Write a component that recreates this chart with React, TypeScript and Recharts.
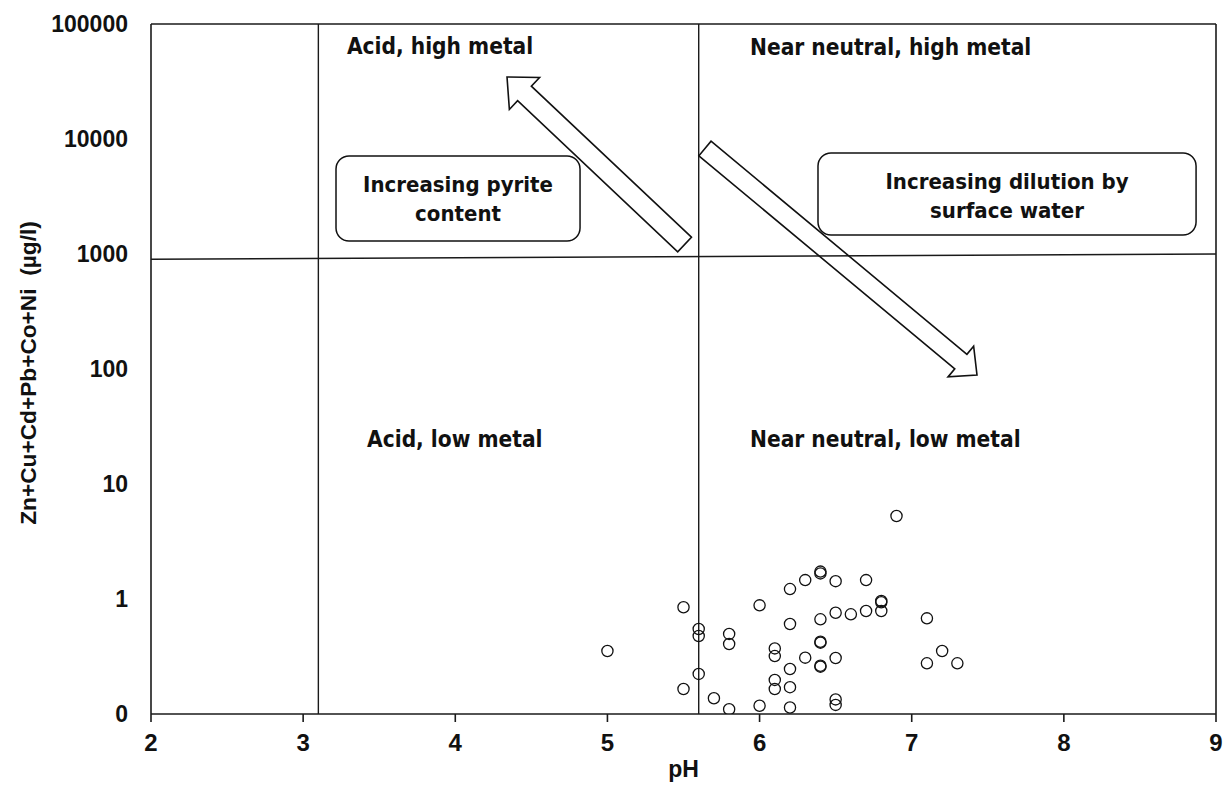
import React from "react";
import {
  ScatterChart,
  Scatter,
  XAxis,
  YAxis,
  ReferenceLine,
  ReferenceArea,
  ReferenceDot,
} from "recharts";

if (typeof document !== "undefined") {
  document.body.style.margin = "0";
  document.body.style.overflow = "hidden";
}

// ---------- data ----------
const phValues = [
  5.0, 5.5, 5.5, 5.6, 5.6, 5.6, 5.7, 5.8, 5.8, 5.8, 6.0, 6.0, 6.1, 6.1, 6.1, 6.1,
  6.2, 6.2, 6.2, 6.2, 6.2, 6.3, 6.3, 6.4, 6.4, 6.4, 6.4, 6.4, 6.4, 6.4, 6.5, 6.5,
  6.5, 6.5, 6.5, 6.6, 6.7, 6.7, 6.8, 6.8, 6.8, 6.9, 7.1, 7.1, 7.2, 7.3,
];
const metalValues = [
  0.353, 0.847, 0.165, 0.548, 0.477, 0.223, 0.137, 0.497, 0.406, 0.11, 0.881, 0.118,
  0.372, 0.319, 0.198, 0.165, 1.22, 0.606, 0.246, 0.171, 0.114, 1.46, 0.309, 1.73,
  1.67, 0.666, 0.425, 0.417, 0.263, 0.258, 1.43, 0.76, 0.307, 0.134, 0.12, 0.736,
  1.46, 0.787, 0.961, 0.936, 0.787, 5.27, 0.679, 0.276, 0.353, 0.276,
];
const xTicks = [2, 3, 4, 5, 6, 7, 8, 9];
const yTicks = [0.1, 1, 10, 100, 1000, 10000, 100000];

// boundaries
const acidBoundary = 3.1;
const neutralBoundary = 5.6;
const metalBoundaryLeft = 900;
const metalBoundaryRight = 1000;

// quadrant labels (pH, value at text baseline)
const quadrantLabels = [
  { x: 3.288, y: 54800, text: "Acid, high metal" },
  { x: 5.937, y: 53700, text: "Near neutral, high metal" },
  { x: 3.42, y: 21.0, text: "Acid, low metal" },
  { x: 5.937, y: 21.0, text: "Near neutral, low metal" },
];

// text boxes
const boxes = [
  { x1: 3.216, x2: 4.82, y1: 1297, y2: 7112, lines: ["Increasing pyrite", "content"] },
  { x1: 6.384, x2: 8.869, y1: 1463, y2: 7551, lines: ["Increasing dilution by", "surface water"] },
];

// arrows: tail -> tip (pH, value)
const arrows = [
  { tail: { x: 5.507, y: 1210 }, tip: { x: 4.34, y: 34600 }, shaftHalf: 10, headHalf: 22, headLen: 24 },
  { tail: { x: 5.641, y: 8266 }, tip: { x: 7.429, y: 88.7 }, shaftHalf: 9.5, headHalf: 20, headLen: 21 },
];

const data = phValues.map((x, i) => ({ x, y: metalValues[i] }));

const TICK_FONT = "'Liberation Sans', Arial, sans-serif";
const WIDE_FONT = "'DejaVu Sans Condensed', 'DejaVu Sans', sans-serif";
const LINE = "#1a1a1a";

const Circle = (props: any) => {
  const { cx, cy } = props;
  if (cx == null || cy == null) return null;
  return <circle cx={cx} cy={cy} r={5.6} fill="none" stroke="#111" strokeWidth={1.3} />;
};

const makeArrow = (a: any) => (props: any) => {
  const { x1, y1, x2, y2 } = props;
  if ([x1, y1, x2, y2].some((v) => v == null || isNaN(v))) return null;
  const dx = x2 - x1;
  const dy = y2 - y1;
  const len = Math.sqrt(dx * dx + dy * dy);
  const ux = dx / len;
  const uy = dy / len;
  const nx = -uy;
  const ny = ux;
  const bx = x2 - ux * a.headLen;
  const by = y2 - uy * a.headLen;
  const w = a.shaftHalf;
  const h = a.headHalf;
  const pts = [
    [x1 + nx * w, y1 + ny * w],
    [bx + nx * w, by + ny * w],
    [bx + nx * h, by + ny * h],
    [x2, y2],
    [bx - nx * h, by - ny * h],
    [bx - nx * w, by - ny * w],
    [x1 - nx * w, y1 - ny * w],
  ]
    .map((p) => p.join(","))
    .join(" ");
  return <polygon points={pts} fill="none" stroke="#111" strokeWidth={1.6} strokeLinejoin="miter" />;
};

const makeBox = (b: any) => (props: any) => {
  const { x, y, width, height } = props;
  if (x == null || y == null) return null;
  return (
    <g>
      <rect x={x} y={y} width={width} height={height} rx={13} ry={13} fill="none" stroke="#111" strokeWidth={1.5} />
      {b.lines.map((t: string, i: number) => (
        <text
          key={i}
          x={x + width / 2}
          y={y + 36 + i * 28.5}
          textAnchor="middle"
          fontFamily={WIDE_FONT}
          fontWeight="bold"
          fontSize={22}
          fill="#111"
        >
          {t}
        </text>
      ))}
    </g>
  );
};

const makeLabel = (q: any) => (props: any) => {
  const { cx, cy } = props;
  if (cx == null || cy == null) return null;
  return (
    <text
      x={cx}
      y={cy}
      textAnchor="start"
      fontFamily={WIDE_FONT}
      fontWeight="bold"
      fontSize={22.5}
      fill="#111"
    >
      {q.text}
    </text>
  );
};

const YLabel = (props: any) => {
  const vb = props.viewBox || { x: 0, y: 16, width: 143, height: 690 };
  const cx = 20;
  const cy = vb.y + vb.height / 2 + 4;
  return (
    <text
      x={cx}
      y={cy}
      transform={`rotate(-90 ${cx} ${cy})`}
      textAnchor="middle"
      dominantBaseline="central"
      fontFamily={TICK_FONT}
      fontWeight="bold"
      fontSize={22.7}
      fill="#111"
      style={{ whiteSpace: "pre" }}
    >
      {"Zn+Cu+Cd+Pb+Co+Ni  (\u00b5g/l)"}
    </text>
  );
};

const XLabel = (props: any) => {
  const vb = props.viewBox || { x: 143, y: 706, width: 1065, height: 71 };
  return (
    <text
      x={vb.x + vb.width / 2}
      y={vb.y + 63}
      textAnchor="middle"
      fontFamily={TICK_FONT}
      fontWeight="bold"
      fontSize={23}
      fill="#111"
    >
      pH
    </text>
  );
};

export default function App() {
  return (
    <div style={{ width: 1225, height: 785, boxSizing: "border-box", paddingLeft: 8, paddingTop: 8, background: "#fff" }}>
      <ScatterChart
        width={1217}
        height={777}
        margin={{ top: 16, right: 9, bottom: 0, left: 0 }}
      >
        <XAxis
          type="number"
          dataKey="x"
          domain={[2, 9]}
          ticks={xTicks}
          interval={0}
          allowDataOverflow
          height={71}
          tickSize={8}
          tickMargin={12}
          axisLine={{ stroke: LINE, strokeWidth: 1.6 }}
          tickLine={{ stroke: LINE, strokeWidth: 1.6 }}
          tick={{ fill: "#111", fontSize: 24, fontWeight: "bold", fontFamily: TICK_FONT }}
          label={{ content: XLabel }}
        />
        <YAxis
          type="number"
          dataKey="y"
          scale="log"
          domain={[0.1, 100000]}
          ticks={yTicks}
          interval={0}
          allowDataOverflow
          width={143}
          tickSize={0}
          tickMargin={23}
          tickLine={false}
          axisLine={{ stroke: LINE, strokeWidth: 1.6 }}
          tick={{ fill: "#111", fontSize: 23, fontWeight: "bold", fontFamily: TICK_FONT }}
          tickFormatter={(v: number) => (v < 1 ? "0" : String(v))}
          label={{ content: YLabel }}
        />
        {/* frame */}
        <ReferenceLine y={100000} stroke={LINE} strokeWidth={1.6} ifOverflow="visible" />
        <ReferenceLine x={9} stroke={LINE} strokeWidth={1.6} ifOverflow="visible" />
        {/* boundaries */}
        <ReferenceLine x={acidBoundary} stroke={LINE} strokeWidth={1.4} />
        <ReferenceLine x={neutralBoundary} stroke={LINE} strokeWidth={1.4} />
        <ReferenceLine
          segment={[
            { x: 2, y: metalBoundaryLeft },
            { x: 9, y: metalBoundaryRight },
          ]}
          stroke={LINE}
          strokeWidth={1.4}
        />
        {boxes.map((b, i) => (
          <ReferenceArea
            key={"b" + i}
            x1={b.x1}
            x2={b.x2}
            y1={b.y1}
            y2={b.y2}
            shape={makeBox(b)}
          />
        ))}
        {arrows.map((a, i) => (
          <ReferenceLine key={"a" + i} segment={[a.tail, a.tip]} shape={makeArrow(a)} />
        ))}
        {quadrantLabels.map((q, i) => (
          <ReferenceDot key={"q" + i} x={q.x} y={q.y} r={0} shape={makeLabel(q)} />
        ))}
        <Scatter data={data} shape={Circle} isAnimationActive={false} />
      </ScatterChart>
    </div>
  );
}
